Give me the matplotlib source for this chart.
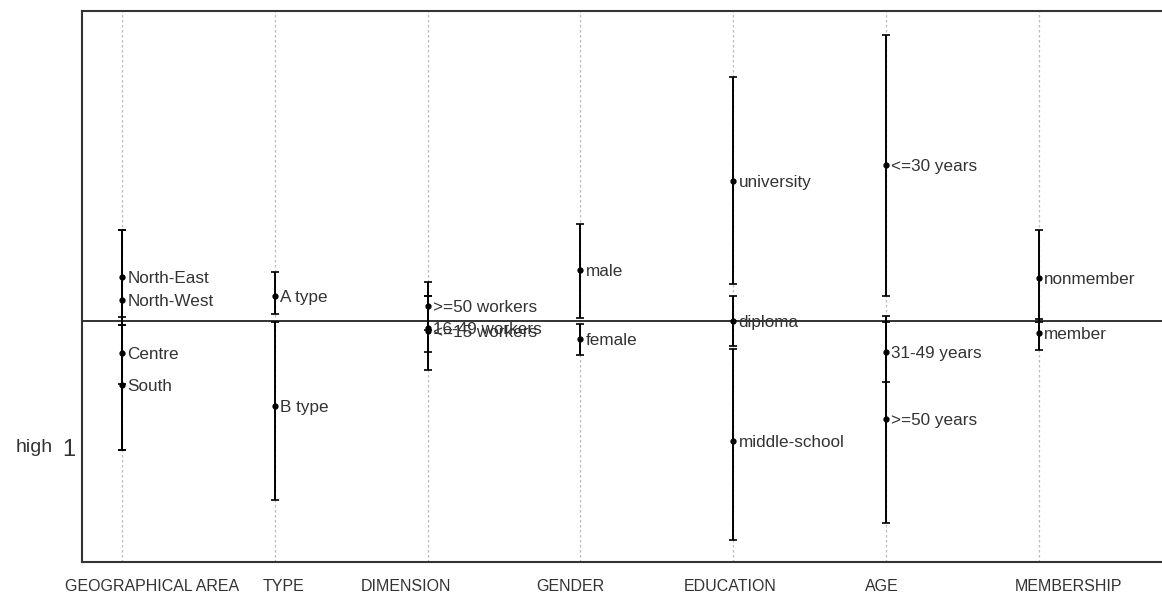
import matplotlib.pyplot as plt

# --- data: estimated effects with lower / upper bounds, per variable ---
groups = ["GEOGRAPHICAL AREA", "TYPE", "DIMENSION", "GENDER",
          "EDUCATION", "AGE", "MEMBERSHIP"]

geo_labels = ["North-East", "North-West", "Centre", "South"]
geo_est = [0.44, 0.21, -0.32, -0.64]
geo_lo = [-0.04, -0.63, -1.29, -1.29]
geo_hi = [0.91, 0.91, 0.04, -0.04]

type_labels = ["A type", "B type"]
type_est = [0.25, -0.85]
type_lo = [0.07, -1.79]
type_hi = [0.49, -0.01]

dim_labels = [">=50 workers", "16-49 workers", "<=15 workers"]
dim_est = [0.15, -0.07, -0.10]
dim_lo = [-0.09, -0.31, -0.49]
dim_hi = [0.39, 0.25, 0.25]

gender_labels = ["male", "female"]
gender_est = [0.51, -0.18]
gender_lo = [0.03, -0.34]
gender_hi = [0.97, -0.03]

edu_labels = ["university", "diploma", "middle-school"]
edu_est = [1.40, 0.0, -1.20]
edu_lo = [0.37, -0.25, -2.19]
edu_hi = [2.44, 0.25, -0.28]

age_labels = ["<=30 years", "31-49 years", ">=50 years"]
age_est = [1.56, -0.31, -0.98]
age_lo = [0.25, -0.61, -2.02]
age_hi = [2.86, 0.05, -0.01]

memb_labels = ["nonmember", "member"]
memb_est = [0.43, -0.12]
memb_lo = [-0.01, -0.29]
memb_hi = [0.91, 0.02]

series = [
    (geo_labels, geo_est, geo_lo, geo_hi),
    (type_labels, type_est, type_lo, type_hi),
    (dim_labels, dim_est, dim_lo, dim_hi),
    (gender_labels, gender_est, gender_lo, gender_hi),
    (edu_labels, edu_est, edu_lo, edu_hi),
    (age_labels, age_est, age_lo, age_hi),
    (memb_labels, memb_est, memb_lo, memb_hi),
]

ytick_pos = [-1.27]
ytick_labels = ["1"]

plt.rcParams['font.family'] = ['Liberation Sans', 'DejaVu Sans']

fig = plt.figure(figsize=(11.62, 5.94), dpi=100)
ax = fig.add_axes([0.0706, 0.0539, 0.9294, 0.9276])

# dotted guide line for each variable
for i in range(len(groups)):
    ax.axvline(i, color="#bbbbbb", linestyle=(0, (2, 2)), linewidth=0.9, zorder=0)

ax.axhline(0, color="#222222", linewidth=1.3, zorder=1)

for i, (labels, est, lo, hi) in enumerate(series):
    for lab, e, l, h in zip(labels, est, lo, hi):
        ax.errorbar(i, e, yerr=[[e - l], [h - e]], fmt="o", color="black",
                    markersize=3.5, elinewidth=1.4, capsize=3, capthick=1.2,
                    zorder=3)
        ax.text(i + 0.035, e - 0.02, lab, fontsize=12.3, color="#333333",
                va="center", ha="left", zorder=2)

ax.set_xlim(-0.262, 6.806)
ax.set_ylim(-2.41, 3.10)

# group names sit a little off their guide lines
name_shift = [0.196, 0.059, -0.144, -0.065, -0.02, -0.026, 0.196]
ax.set_xticks([i + s for i, s in enumerate(name_shift)])
ax.set_xticklabels(groups, fontsize=11.5, color="#333333")
ax.tick_params(axis="x", length=0, pad=12)

ax.set_yticks(ytick_pos)
ax.set_yticklabels(ytick_labels, fontsize=17, color="#333333")
ax.tick_params(axis="y", length=0, pad=5)
ax.set_ylabel("high", fontsize=14, color="#333333", rotation=0,
              va="center", labelpad=8)
ax.yaxis.set_label_coords(-0.044, (ytick_pos[0] + 2.41) / 5.51)

for side in ["left", "top", "bottom"]:
    ax.spines[side].set_color("#333333")
    ax.spines[side].set_linewidth(1.5)
ax.spines["right"].set_visible(False)

plt.savefig("out.png", dpi=100)
